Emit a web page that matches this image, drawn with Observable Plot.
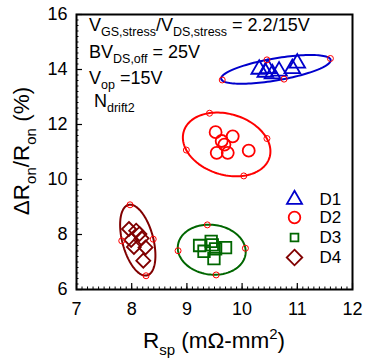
<!DOCTYPE html>
<html><head><meta charset="utf-8">
<script src="https://cdn.jsdelivr.net/npm/d3@7"></script>
<script src="https://cdn.jsdelivr.net/npm/@observablehq/plot@0.6"></script>
<style>body{margin:0;background:#fff} svg{display:block}</style>
</head><body><div id="chart"></div>
<script>
// ---- data ----
const seriesNames = ["D1", "D2", "D3", "D4"];
const seriesColors = ["#0000cc", "#ff0000", "#006600", "#800000"];
const seriesSymbols = ["triangle", "circle", "square", "diamond2"];

const d1x = [10.31, 10.42, 10.47, 10.55, 10.67, 10.91, 11.00];
const d1y = [14.01, 13.90, 14.03, 13.84, 13.94, 14.03, 14.23];
const d2x = [9.52, 9.83, 9.63, 9.68, 9.54, 9.74, 10.12];
const d2y = [11.72, 11.57, 11.40, 11.27, 10.97, 10.97, 11.05];
const d3x = [9.23, 9.31, 9.44, 9.46, 9.52, 9.70, 9.49];
const d3y = [7.60, 7.39, 7.75, 7.62, 7.48, 7.52, 7.12];
const d4x = [7.95, 8.08, 8.14, 7.99, 8.18, 8.04, 8.25, 8.21];
const d4y = [8.20, 8.14, 8.02, 7.80, 7.86, 7.55, 7.53, 7.05];

// ellipse marker points: [0]&[1] one diameter, [2]&[3] the conjugate diameter
const e1x = [9.64, 11.60, 10.45, 10.76];
const e1y = [13.62, 14.40, 14.35, 13.65];
const e2x = [8.99, 10.45, 9.41, 10.03];
const e2y = [11.07, 11.49, 12.41, 10.13];
const e3x = [8.84, 10.06, 9.37, 9.53];
const e3y = [7.41, 7.50, 8.35, 6.53];
const e4x = [7.82, 8.39, 7.97, 8.26];
const e4y = [7.77, 7.83, 9.08, 6.50];

const xMajor = [7, 8, 9, 10, 11, 12];
const yMajor = [6, 8, 10, 12, 14, 16];
const xMinor = d3.range(70, 121).map(d => d / 10);
const yMinor = d3.range(30, 81).map(d => d / 5);

// ---- build tables ----
const dataX = [d1x, d2x, d3x, d4x], dataY = [d1y, d2y, d3y, d4y];
const ellX = [e1x, e2x, e3x, e4x], ellY = [e1y, e2y, e3y, e4y];
const seriesPoints = dataX.map((xs, i) => xs.map((x, j) => ({x, y: dataY[i][j]})));
const markers = [];
ellX.forEach((xs, i) => xs.forEach((x, j) => markers.push({s: i, x, y: ellY[i][j]})));
// ellipse outline from its two conjugate diameters
const outlines = [];
ellX.forEach((xs, i) => {
  const ys = ellY[i];
  const cx = (xs[0] + xs[1] + xs[2] + xs[3]) / 4, cy = (ys[0] + ys[1] + ys[2] + ys[3]) / 4;
  const ax = (xs[1] - xs[0]) / 2, ay = (ys[1] - ys[0]) / 2;
  const bx = (xs[2] - xs[3]) / 2, by = (ys[2] - ys[3]) / 2;
  for (let k = 0; k <= 120; k++) {
    const t = k / 120 * 2 * Math.PI;
    outlines.push({s: i, x: cx + ax * Math.cos(t) + bx * Math.sin(t), y: cy + ay * Math.cos(t) + by * Math.sin(t)});
  }
});

const W = 367, H = 361, mL = 76, mR = 15, mT = 14, mB = 72;
const pw = W - mL - mR, ph = H - mT - mB;
const FONT = "Liberation Sans, Arial, Helvetica, sans-serif";

const dataR = [5.8, 6, 6.5, 6.3];
const dataMarks = seriesPoints.map((pts, i) =>
  Plot.dot(pts, {x: "x", y: "y", symbol: () => seriesSymbols[i], r: dataR[i], stroke: seriesColors[i], strokeWidth: 1.8, fill: "none"}));

const legendRows = [185, 203, 223, 243];
const legendR = [5.6, 5.8, 4.4, 7.0];
const legendMarks = [];
seriesNames.forEach((name, i) => {
  legendMarks.push(Plot.dot([0], {frameAnchor: "top-left", dx: 218, dy: legendRows[i], symbol: () => seriesSymbols[i], r: legendR[i], stroke: seriesColors[i], strokeWidth: 1.8, fill: "none"}));
  legendMarks.push(Plot.text([name], {frameAnchor: "top-left", dx: 243, dy: legendRows[i], text: d => d, textAnchor: "start", lineAnchor: "middle", fontSize: 17, fill: "#000"}));
});

const chart = Plot.plot({
  width: W, height: H, marginLeft: mL, marginRight: mR, marginTop: mT, marginBottom: mB,
  x: {domain: [7, 12]}, y: {domain: [6, 16]},
  style: {fontFamily: FONT, background: "#fff", color: "#000"},
  marks: [
    Plot.ruleX(xMinor, {x: d => d, stroke: "#000", strokeWidth: 1, insetTop: ph - 2.5}),
    Plot.ruleX(xMajor, {x: d => d, stroke: "#000", strokeWidth: 1.2, insetTop: ph - 6}),
    Plot.ruleY(yMinor, {y: d => d, stroke: "#000", strokeWidth: 1, insetRight: pw - 2.5}),
    Plot.ruleY(yMajor, {y: d => d, stroke: "#000", strokeWidth: 1.2, insetRight: pw - 6}),
    Plot.axisX({ticks: xMajor, tickSize: 0, tickPadding: 13, fontSize: 18, label: null, tickFormat: d3.format("d")}),
    Plot.axisY({ticks: yMajor, tickSize: 0, tickPadding: 9, fontSize: 18, label: null, tickFormat: d3.format("d")}),
    Plot.frame({stroke: "#000", strokeWidth: 2}),
    Plot.line(outlines, {x: "x", y: "y", z: "s", stroke: d => seriesColors[d.s], strokeWidth: 2, curve: "linear"}),
    ...dataMarks,
    Plot.dot(markers, {x: "x", y: "y", r: 3, stroke: "#ff0000", strokeWidth: 1, fill: "none"}),
    ...legendMarks
  ]
});

// ---- rich text (sub/superscripts) ----
const svg = d3.select(chart);
function rich(x, y, parts, size, small, anchor, rotate) {
  const t = svg.append("text")
    .attr("font-family", FONT).attr("font-size", size).attr("fill", "#000")
    .attr("text-anchor", anchor);
  if (rotate) t.attr("transform", `translate(${x},${y}) rotate(-90)`);
  else t.attr("x", x).attr("y", y);
  let cur = 0;
  parts.forEach(([str, pos]) => {
    const off = pos === 1 ? size * 0.3 : pos === -1 ? -size * 0.42 : 0;
    t.append("tspan").attr("dy", off - cur).attr("font-size", pos ? small : size).text(str);
    cur = off;
  });
  return t;
}
rich(89, 31, [["V", 0], ["GS,stress", 1], ["/V", 0], ["DS,stress", 1], [" = 2.2/15V", 0]], 18, 12.5, "start");
rich(89, 58, [["BV", 0], ["DS,off", 1], [" = 25V", 0]], 18, 12.5, "start");
rich(89, 84, [["V", 0], ["op", 1], [" =15V", 0]], 18, 12.5, "start");
rich(94, 107, [["N", 0], ["drift2", 1]], 18, 12.5, "start");
rich(214, 348, [["R", 0], ["sp", 1], [" (m\u03A9-mm", 0], ["2", -1], [")", 0]], 22.5, 15, "middle");
rich(29, 151, [["\u0394R", 0], ["on", 1], ["/R", 0], ["on", 1], [" (%)", 0]], 22.5, 15, "middle", true);

document.getElementById("chart").appendChild(chart);
</script>
</body></html>
